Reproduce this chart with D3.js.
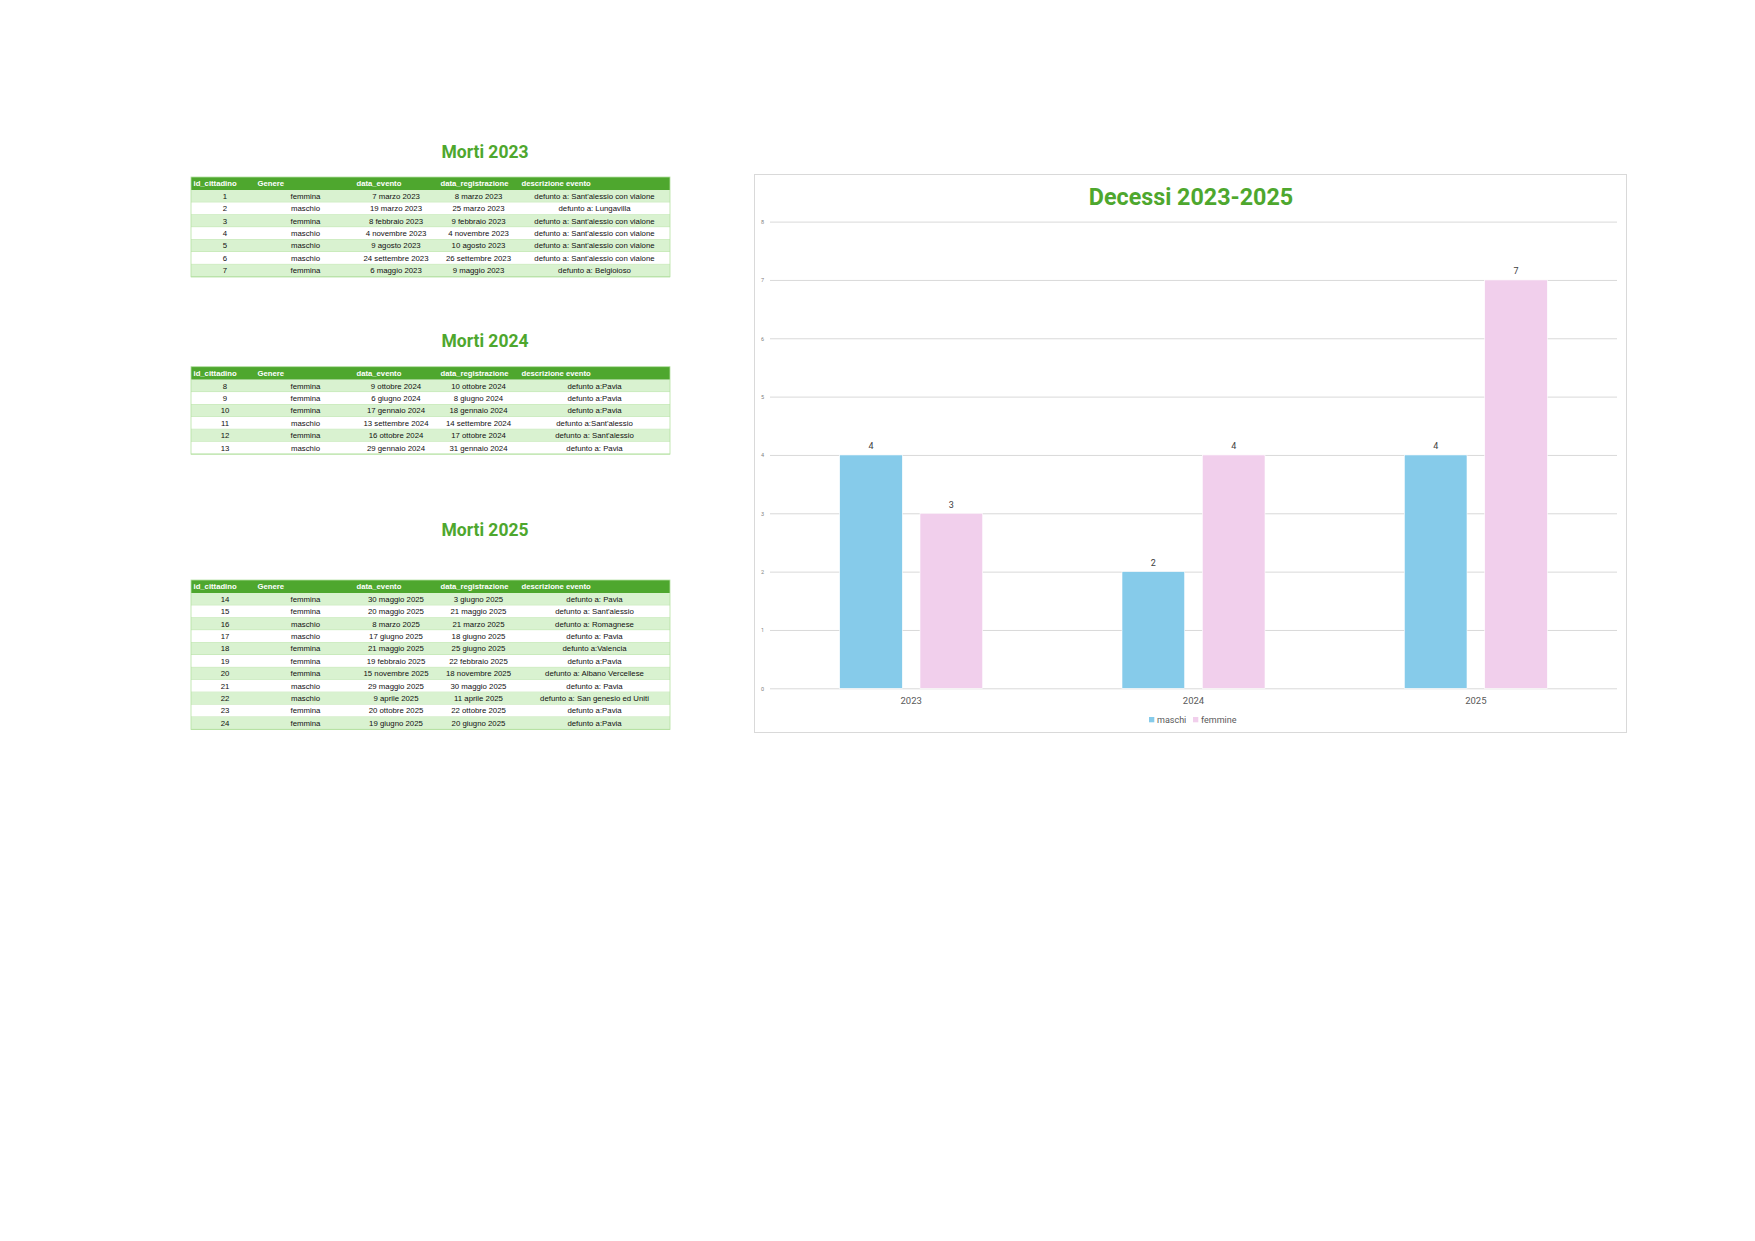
<!DOCTYPE html>
<html>
<head>
<meta charset="utf-8">
<script src="https://cdn.jsdelivr.net/npm/d3@7"></script>
<style>
  body { margin: 0; background: #fff; }
  svg { display: block; }
  .cell { font-family: "Liberation Sans", Arial, sans-serif; font-size: 7.8px; fill: #111; }
  .head { font-family: "Liberation Sans", Arial, sans-serif; font-size: 7.7px; font-weight: bold; fill: #fff; }
  .ttl { font-family: Roboto, sans-serif; font-weight: bold; fill: #4ea72e; }
  .axis text { font-family: Roboto, sans-serif; }
</style>
</head>
<body>
<div id="page"></div>
<script>
// chart data
var years = ["2023", "2024", "2025"];
var series = ["maschi", "femmine"];
var maschi = [4, 2, 4];
var femmine = [3, 4, 7];
var yTicks = [0, 1, 2, 3, 4, 5, 6, 7, 8];

// table data
var headers = ["id_cittadino", "Genere", "data_evento", "data_registrazione", "descrizione evento"];
var rows2023 = [
  [1, "femmina", "7 marzo 2023", "8 marzo 2023", "defunto a: Sant'alessio con vialone"],
  [2, "maschio", "19 marzo 2023", "25 marzo 2023", "defunto a: Lungavilla"],
  [3, "femmina", "8 febbraio 2023", "9 febbraio 2023", "defunto a: Sant'alessio con vialone"],
  [4, "maschio", "4 novembre 2023", "4 novembre 2023", "defunto a: Sant'alessio con vialone"],
  [5, "maschio", "9 agosto 2023", "10 agosto 2023", "defunto a: Sant'alessio con vialone"],
  [6, "maschio", "24 settembre 2023", "26 settembre 2023", "defunto a: Sant'alessio con vialone"],
  [7, "femmina", "6 maggio 2023", "9 maggio 2023", "defunto a: Belgioioso"]
];
var rows2024 = [
  [8, "femmina", "9 ottobre 2024", "10 ottobre 2024", "defunto a:Pavia"],
  [9, "femmina", "6 giugno 2024", "8 giugno 2024", "defunto a:Pavia"],
  [10, "femmina", "17 gennaio 2024", "18 gennaio 2024", "defunto a:Pavia"],
  [11, "maschio", "13 settembre 2024", "14 settembre 2024", "defunto a:Sant'alessio"],
  [12, "femmina", "16 ottobre 2024", "17 ottobre 2024", "defunto a: Sant'alessio"],
  [13, "maschio", "29 gennaio 2024", "31 gennaio 2024", "defunto a: Pavia"]
];
var rows2025 = [
  [14, "femmina", "30 maggio 2025", "3 giugno 2025", "defunto a: Pavia"],
  [15, "femmina", "20 maggio 2025", "21 maggio 2025", "defunto a: Sant'alessio"],
  [16, "maschio", "8 marzo 2025", "21 marzo 2025", "defunto a: Romagnese"],
  [17, "maschio", "17 giugno 2025", "18 giugno 2025", "defunto a: Pavia"],
  [18, "femmina", "21 maggio 2025", "25 giugno 2025", "defunto a:Valencia"],
  [19, "femmina", "19 febbraio 2025", "22 febbraio 2025", "defunto a:Pavia"],
  [20, "femmina", "15 novembre 2025", "18 novembre 2025", "defunto a: Albano Vercellese"],
  [21, "maschio", "29 maggio 2025", "30 maggio 2025", "defunto a: Pavia"],
  [22, "maschio", "9 aprile 2025", "11 aprile 2025", "defunto a: San genesio ed Uniti"],
  [23, "femmina", "20 ottobre 2025", "22 ottobre 2025", "defunto a:Pavia"],
  [24, "femmina", "19 giugno 2025", "20 giugno 2025", "defunto a:Pavia"]
];

var green = "#4ea72e", lightGreen = "#d9f2d0", lineGreen = "#b3e0a0";
var colors = {maschi: "#86cbea", femmine: "#f1cfec"};

var svg = d3.select("#page").append("svg")
    .attr("width", 1755)
    .attr("height", 1241);

//tables
var colEdges = [191, 255, 354, 438, 519, 670];
var headH = 13, rowH = 12.4;

function drawTable(title, rows, titleY, top) {
  svg.append("text").attr("class", "ttl")
      .attr("x", 485).attr("y", titleY)
      .attr("text-anchor", "middle")
      .style("font-size", "17.5px")
      .text(title);

  var g = svg.append("g").attr("transform", "translate(0," + top + ")");
  var w = colEdges[colEdges.length - 1] - colEdges[0];

  g.append("rect").attr("x", colEdges[0]).attr("y", 0)
      .attr("width", w).attr("height", headH).attr("fill", green);
  g.selectAll(".head").data(headers).enter().append("text")
      .attr("class", "head")
      .attr("x", function(d, i) { return colEdges[i] + 2.5; })
      .attr("y", headH / 2 + 2.7)
      .text(function(d) { return d; });

  var r = g.selectAll(".row").data(rows).enter().append("g")
      .attr("class", "row")
      .attr("transform", function(d, i) { return "translate(0," + (headH + i * rowH) + ")"; });
  r.append("rect").attr("x", colEdges[0]).attr("width", w).attr("height", rowH)
      .attr("fill", function(d, i) { return i % 2 == 0 ? lightGreen : "#fff"; });
  r.append("line").attr("x1", colEdges[0]).attr("x2", colEdges[0] + w)
      .attr("y1", rowH).attr("y2", rowH)
      .attr("stroke", lineGreen).attr("stroke-width", 0.8);
  r.selectAll(".cell").data(function(d) { return d; }).enter().append("text")
      .attr("class", "cell")
      .attr("x", function(d, i) { return (colEdges[i] + colEdges[i + 1]) / 2 + (i == 0 ? 2 : 0) + (i == 1 ? 1 : 0); })
      .attr("y", rowH / 2 + 2.7)
      .attr("text-anchor", "middle")
      .text(function(d) { return d; });

  g.append("rect").attr("x", colEdges[0]).attr("y", 0)
      .attr("width", w).attr("height", headH + rows.length * rowH)
      .attr("fill", "none").attr("stroke", lineGreen).attr("stroke-width", 0.8);
}

drawTable("Morti 2023", rows2023, 158.3, 177);
drawTable("Morti 2024", rows2024, 347.3, 366.7);
drawTable("Morti 2025", rows2025, 535.7, 580);

//chart
svg.append("rect")
    .attr("x", 754.5).attr("y", 174.5)
    .attr("width", 872).attr("height", 558)
    .attr("fill", "#fff").attr("stroke", "#d9d9d9");

svg.append("text").attr("class", "ttl")
    .attr("x", 1191).attr("y", 205)
    .attr("text-anchor", "middle")
    .style("font-size", "23.3px")
    .text("Decessi 2023-2025");

var plotL = 770, plotR = 1617;
var scaleX = d3.scaleBand().domain(years).range([plotL, plotR]);
var groupW = 143;
var scaleX1 = d3.scaleBand().domain(series).range([0, groupW]).paddingInner(0.22);
var scaleY = d3.scaleLinear().domain([0, 8]).range([688.3, 221.6]);

var axisY = d3.axisLeft(scaleY).tickValues(yTicks).tickSizeInner(-(plotR - plotL)).tickSizeOuter(0).tickPadding(6);
svg.append("g").attr("class", "axis axis-y")
    .attr("transform", "translate(" + plotL + ",0)")
    .call(axisY)
    .call(function(g) {
      g.select(".domain").remove();
      g.selectAll(".tick line").attr("stroke", "#d9d9d9");
      g.selectAll(".tick text").attr("fill", "#7f7f7f").style("font-size", "5.5px");
    });

var axisX = d3.axisBottom(scaleX).tickSize(0).tickPadding(9);
svg.append("g").attr("class", "axis axis-x")
    .attr("transform", "translate(0," + scaleY(0) + ")")
    .call(axisX)
    .call(function(g) {
      g.select(".domain").remove();
      g.selectAll(".tick text").attr("fill", "#595959").style("font-size", "9.5px");
    });

var values = {maschi: maschi, femmine: femmine};
var groups = svg.append("g").attr("class", "bars")
    .selectAll("g").data(years).enter().append("g")
    .attr("transform", function(d) {
      return "translate(" + (scaleX(d) + (scaleX.bandwidth() - groupW) / 2) + ",0)";
    });

series.forEach(function(s) {
  groups.append("rect")
      .attr("x", scaleX1(s))
      .attr("y", function(d, i) { return scaleY(values[s][i]); })
      .attr("width", scaleX1.bandwidth())
      .attr("height", function(d, i) { return scaleY(0) - scaleY(values[s][i]); })
      .attr("fill", colors[s])
      .attr("stroke", "#fff").attr("stroke-width", 0.6);
  groups.append("text")
      .attr("x", scaleX1(s) + scaleX1.bandwidth() / 2)
      .attr("y", function(d, i) { return scaleY(values[s][i]) - 5.5; })
      .attr("text-anchor", "middle")
      .style("font-family", "Roboto, sans-serif").style("font-size", "9px")
      .attr("fill", "#404040")
      .text(function(d, i) { return values[s][i]; });
});

// legend
var legendX = [1149, 1193];
var legend = svg.append("g").attr("class", "legend")
    .selectAll("g").data(series).enter().append("g")
    .attr("transform", function(d, i) { return "translate(" + legendX[i] + ",717)"; });
legend.append("rect").attr("width", 5.3).attr("height", 5.3)
    .attr("fill", function(d) { return colors[d]; });
legend.append("text").attr("x", 8).attr("y", 5.6)
    .style("font-family", "Roboto, sans-serif").style("font-size", "9px")
    .attr("fill", "#595959")
    .text(function(d) { return d; });
</script>
</body>
</html>
